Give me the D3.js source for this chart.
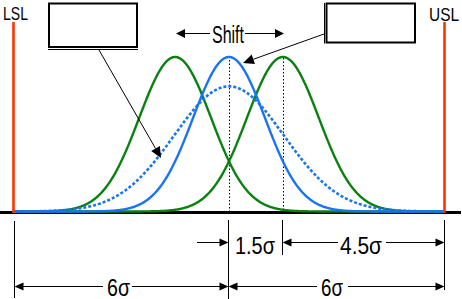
<!DOCTYPE html>
<meta charset="utf-8">
<style>
body { margin: 0; background: #fff; }
svg { font-family: "Liberation Sans", Arial, sans-serif; }
.dim { stroke: #000; stroke-width: 1; }
.lbl { fill: #000; }
</style>
<body>
<script src="https://cdn.jsdelivr.net/npm/d3@7"></script>
<script>
var width = 462, height = 299;

// curves, positions in sigma units
var curveNames = ['left', 'right', 'centre', 'longTerm'];
var curveMeans = [-1.5, 1.5, 0, 0];
var curveSigmas = [1, 1, 1, 1.53];
var curvePeaks = [1, 1, 1, 0.81];
var curveColors = ['#0a8010', '#0a8010', '#1874f5', '#1874f5'];
var specLimits = [-6, 6];
var specLabels = ['LSL', 'USL'];
var dimLabels = ['1.5σ', '4.5σ', '6σ', '6σ'];

var x = d3.scaleLinear().domain([-6, 6]).range([13.5, 444.5]);
var y = d3.scaleLinear().domain([0, 1]).range([211.5, 57]);

var svg = d3.select('body').append('svg')
    .attr('width', width)
    .attr('height', height);

// base line
svg.append('line')
    .attr('x1', 0).attr('x2', 461)
    .attr('y1', 212.5).attr('y2', 212.5)
    .attr('stroke', '#000').attr('stroke-width', 3);

// mean markers
svg.selectAll('.mean-line')
    .data([0, 1.5]).enter()
    .append('line')
    .attr('class', 'mean-line')
    .attr('x1', function(d){ return Math.round(x(d)) + 0.5; })
    .attr('x2', function(d){ return Math.round(x(d)) + 0.5; })
    .attr('y1', function(d){ return d == 0 ? 60 : 58; })
    .attr('y2', 212)
    .attr('stroke', '#000').attr('stroke-width', 1)
    .attr('stroke-dasharray', '1.5,2');

var xs = d3.range(-6, 6.001, 0.02);
var line = d3.line()
    .x(function(d){ return x(d[0]); })
    .y(function(d){ return y(d[1]); });

curveNames.forEach(function(name, i){
    var pts = xs.map(function(v){
        var z = (v - curveMeans[i]) / curveSigmas[i];
        return [v, curvePeaks[i] * Math.exp(-z * z / 2)];
    });
    svg.append('path')
        .attr('class', 'curve ' + name)
        .attr('d', line(pts))
        .attr('fill', 'none')
        .attr('stroke', curveColors[i])
        .attr('stroke-width', name == 'longTerm' ? 2.6 : 2.4)
        .attr('stroke-dasharray', name == 'longTerm' ? '3,2' : null);
});

// spec limits
svg.selectAll('.spec')
    .data(specLimits).enter()
    .append('line')
    .attr('class', 'spec')
    .attr('x1', function(d){ return x(d); })
    .attr('x2', function(d){ return x(d); })
    .attr('y1', 22).attr('y2', 213)
    .attr('stroke', '#ff3300').attr('stroke-width', 2.6);

svg.append('text').attr('class', 'lbl')
    .attr('x', 3).attr('y', 20)
    .attr('font-size', 19)
    .attr('textLength', 25).attr('lengthAdjust', 'spacingAndGlyphs')
    .text(specLabels[0]);
svg.append('text').attr('class', 'lbl')
    .attr('x', 429).attr('y', 21)
    .attr('font-size', 19)
    .attr('textLength', 30).attr('lengthAdjust', 'spacingAndGlyphs')
    .text(specLabels[1]);

// arrow heads
function head(px, py, dir, len, half) {
    len = len || 9; half = half || 4;
    var pts;
    if (dir == 'r') pts = [[px, py], [px - len, py - half], [px - len, py + half]];
    else if (dir == 'l') pts = [[px, py], [px + len, py - half], [px + len, py + half]];
    svg.append('polygon')
        .attr('points', pts.map(function(p){ return p.join(','); }).join(' '))
        .attr('fill', '#000');
}
function seg(x1, y1, x2, y2) {
    svg.append('line').attr('class', 'dim')
        .attr('x1', x1).attr('y1', y1).attr('x2', x2).attr('y2', y2);
}

// label boxes
svg.append('rect')
    .attr('x', 49).attr('y', 3.5).attr('width', 88).attr('height', 43.5)
    .attr('fill', '#fff').attr('stroke', '#000').attr('stroke-width', 2);
seg(48, 49.5, 138, 49.5);
svg.append('rect')
    .attr('x', 326.5).attr('y', 3.5).attr('width', 88.5).attr('height', 39)
    .attr('fill', '#fff').attr('stroke', '#000').attr('stroke-width', 2);
seg(324.5, 3, 324.5, 43.5);

// pointer arrows from boxes
function pointer(x1, y1, x2, y2) {
    var a = Math.atan2(y2 - y1, x2 - x1), len = 11, half = 5;
    var bx = x2 - len * Math.cos(a), by = y2 - len * Math.sin(a);
    seg(x1, y1, bx, by);
    var pts = [[x2, y2],
        [bx + half * Math.sin(a), by - half * Math.cos(a)],
        [bx - half * Math.sin(a), by + half * Math.cos(a)]];
    svg.append('polygon')
        .attr('points', pts.map(function(p){ return p.join(','); }).join(' '))
        .attr('fill', '#000');
}
pointer(99, 50, 161, 158);
pointer(324, 34, 243, 63);

// shift
var shiftY = 33.5;
seg(184, shiftY, 210, shiftY);
head(176, shiftY, 'l', 9, 4.5);
seg(245, shiftY, 275, shiftY);
head(284, shiftY, 'r', 9, 4.5);
svg.append('text').attr('class', 'lbl')
    .attr('x', 212).attr('y', 43)
    .attr('font-size', 23)
    .attr('textLength', 32).attr('lengthAdjust', 'spacingAndGlyphs')
    .text('Shift');

// dimension lines
var xL = Math.round(x(-6)) + 0.5, xC = Math.round(x(0)) - 0.5,
    xS = Math.round(x(1.5)) - 0.5, xR = Math.round(x(6)) - 0.5;
seg(xL, 221, xL, 298);
seg(xC, 220, xC, 299);
seg(xS, 220, xS, 255);
seg(xR, 220, xR, 290);

var r1 = 242.5, r2 = 286.5;
seg(197, r1, xC - 8, r1);
head(xC, r1, 'r');
seg(xS + 8, r1, 338, r1);
head(xS, r1, 'l');
seg(386, r1, xR - 8, r1);
head(xR, r1, 'r');

seg(xL + 8, r2, 103, r2);
head(xL, r2, 'l');
seg(132, r2, xC - 8, r2);
head(xC, r2, 'r');
seg(xC + 8, r2, 317, r2);
head(xC, r2, 'l');
seg(348, r2, xR - 8, r2);
head(xR, r2, 'r');

var dimText = [
    {x: 235, y: 254, w: 40},
    {x: 340, y: 254, w: 42},
    {x: 107, y: 296, w: 23},
    {x: 321, y: 296, w: 22}
];
svg.selectAll('.dim-label')
    .data(dimText).enter()
    .append('text')
    .attr('class', 'lbl dim-label')
    .attr('x', function(d){ return d.x; })
    .attr('y', function(d){ return d.y; })
    .attr('font-size', 23)
    .attr('textLength', function(d){ return d.w; })
    .attr('lengthAdjust', 'spacingAndGlyphs')
    .text(function(d, i){ return dimLabels[i]; });
</script>
